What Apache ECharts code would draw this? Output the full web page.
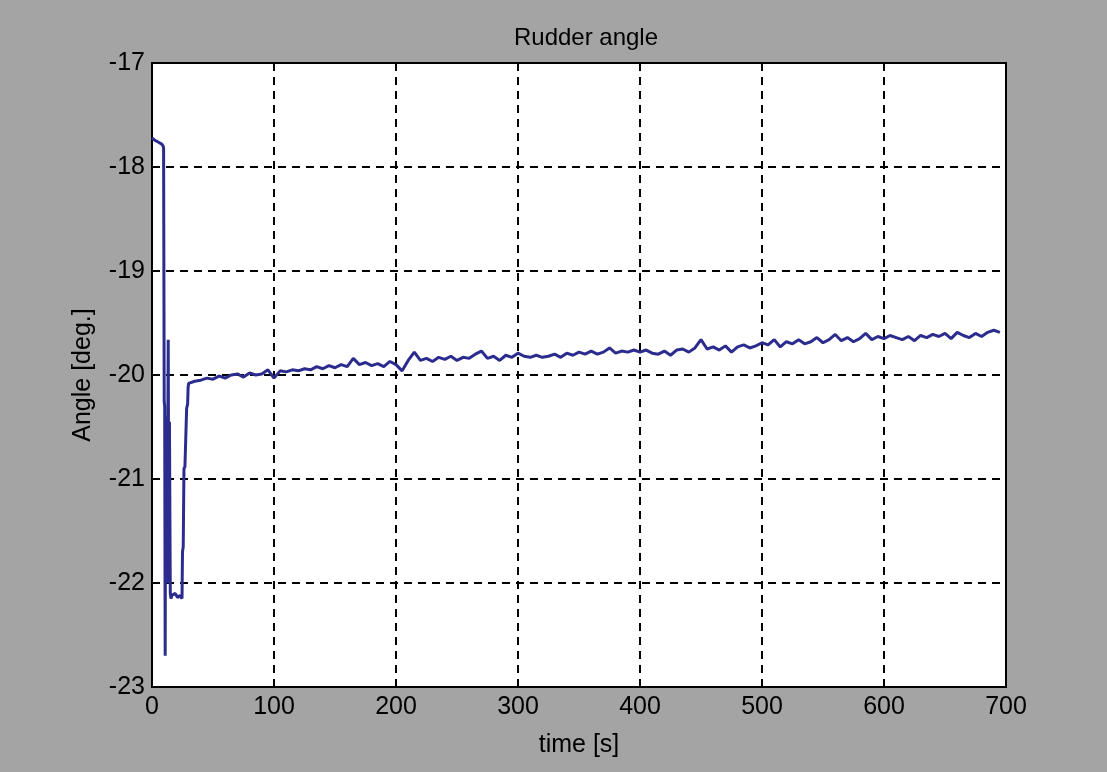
<!DOCTYPE html>
<html>
<head>
<meta charset="utf-8">
<script src="https://cdn.jsdelivr.net/npm/echarts@6/dist/echarts.min.js"></script>
<style>
html,body{margin:0;padding:0;background:#a4a4a4;}
#chart{width:1107px;height:772px;}
</style>
</head>
<body>
<div id="chart"></div>
<script>
// Initial transient (time in s, angle in deg)
var transientTimes = [0, 2, 5, 8, 9.2, 9.5, 10, 10.4, 10.8, 11.2, 11.6, 12.2, 12.8, 13.3, 13.8, 14.3, 15, 15.6, 16.2, 17, 19, 21, 23, 24.6, 25, 25.6, 26.2, 27, 28.4, 29.2, 29.6];
var transientValues = [-17.72, -17.74, -17.76, -17.78, -17.80, -17.82, -20.25, -20.30, -22.70, -20.50, -20.40, -22.00, -20.90, -19.66, -22.00, -20.45, -22.10, -22.15, -22.12, -22.13, -22.10, -22.14, -22.12, -22.15, -21.70, -21.65, -20.90, -20.88, -20.32, -20.28, -20.12];

// Slow drift, sampled every 5 s from 30 s to 695 s
var driftStart = 30, driftStep = 5;
var driftValues = [
-20.08,-20.06,-20.05,-20.03,-20.04,-20.01,-20.03,-20.00,-19.99,-20.02,
-19.98,-20.00,-19.99,-19.95,-20.03,-19.96,-19.97,-19.95,-19.96,-19.94,
-19.95,-19.92,-19.94,-19.91,-19.93,-19.90,-19.92,-19.84,-19.90,-19.88,
-19.91,-19.89,-19.92,-19.87,-19.90,-19.96,-19.86,-19.78,-19.86,-19.84,
-19.87,-19.83,-19.85,-19.82,-19.86,-19.83,-19.84,-19.80,-19.77,-19.84,
-19.82,-19.86,-19.81,-19.83,-19.79,-19.82,-19.83,-19.81,-19.83,-19.82,
-19.80,-19.83,-19.79,-19.81,-19.78,-19.80,-19.77,-19.80,-19.78,-19.74,
-19.79,-19.77,-19.78,-19.76,-19.78,-19.76,-19.79,-19.80,-19.77,-19.81,
-19.76,-19.75,-19.78,-19.74,-19.66,-19.75,-19.73,-19.76,-19.72,-19.78,
-19.73,-19.71,-19.74,-19.72,-19.69,-19.71,-19.66,-19.73,-19.68,-19.70,
-19.66,-19.70,-19.68,-19.64,-19.69,-19.66,-19.61,-19.67,-19.64,-19.68,
-19.65,-19.60,-19.66,-19.63,-19.65,-19.62,-19.64,-19.66,-19.63,-19.67,
-19.62,-19.64,-19.61,-19.63,-19.60,-19.65,-19.59,-19.62,-19.64,-19.60,
-19.63,-19.59,-19.57,-19.59
];

var xTicks = [0, 100, 200, 300, 400, 500, 600, 700];
var yTicks = [-23, -22, -21, -20, -19, -18, -17];

var seriesData = [];
for (var i = 0; i < transientTimes.length; i++) seriesData.push([transientTimes[i], transientValues[i]]);
for (var j = 0; j < driftValues.length; j++) seriesData.push([driftStart + j * driftStep, driftValues[j]]);

var font = "'Liberation Sans', Arial, sans-serif";
var chart = echarts.init(document.getElementById('chart'), null, {renderer: 'canvas'});
chart.setOption({
  backgroundColor: '#a4a4a4',
  animation: false,
  title: {
    text: 'Rudder angle',
    left: 581, top: 21, textAlign: 'center',
    textStyle: {fontFamily: font, fontSize: 24, fontWeight: 'normal', color: '#000'}
  },
  grid: {
    left: 152, right: 101, top: 63, bottom: 85,
    show: true, backgroundColor: '#ffffff', borderColor: '#000', borderWidth: 2
  },
  xAxis: {
    type: 'value', min: 0, max: 700, interval: 100,
    name: 'time [s]', nameLocation: 'middle', nameGap: 46,
    nameTextStyle: {fontFamily: font, fontSize: 25, color: '#000'},
    axisLine: {show: true, lineStyle: {color: '#000', width: 2}},
    axisTick: {show: true, inside: true, length: 6, lineStyle: {color: '#000', width: 2}},
    axisLabel: {fontFamily: font, fontSize: 25, color: '#000', margin: 8,
      formatter: function (v) { return xTicks.indexOf(v) >= 0 ? String(v) : ''; }},
    splitLine: {show: true, lineStyle: {color: '#000', width: 2, type: [8, 6]}}
  },
  yAxis: {
    type: 'value', min: -23, max: -17, interval: 1,
    name: 'Angle [deg.]', nameLocation: 'middle', nameGap: 56, nameRotate: 90,
    nameTextStyle: {fontFamily: font, fontSize: 25, color: '#000'},
    axisLine: {show: true, lineStyle: {color: '#000', width: 2}},
    axisTick: {show: true, inside: true, length: 6, lineStyle: {color: '#000', width: 2}},
    axisLabel: {fontFamily: font, fontSize: 25, color: '#000', margin: 7,
      formatter: function (v) { return yTicks.indexOf(v) >= 0 ? String(v) : ''; }},
    splitLine: {show: true, lineStyle: {color: '#000', width: 2, type: [8, 6]}}
  },
  series: [{
    type: 'line', data: seriesData, showSymbol: false,
    lineStyle: {color: '#2c2c8e', width: 3}
  }]
});
</script>
</body>
</html>
